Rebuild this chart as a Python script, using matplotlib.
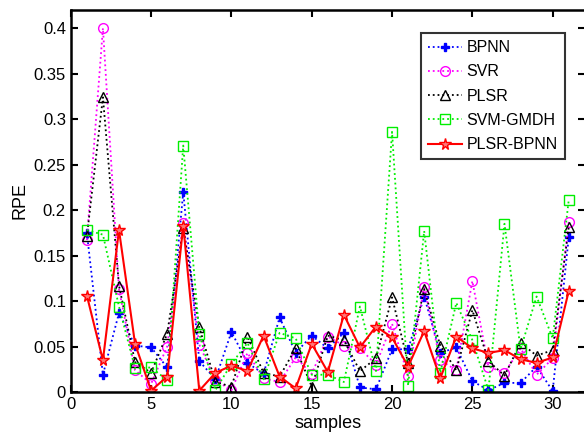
import matplotlib
matplotlib.use("Agg")
import matplotlib.pyplot as plt
from matplotlib.ticker import FuncFormatter

samples = list(range(1, 32))
bpnn = [0.175, 0.019, 0.087, 0.051, 0.049, 0.027, 0.220, 0.034, 0.014, 0.066,
        0.032, 0.020, 0.082, 0.043, 0.062, 0.048, 0.065, 0.005, 0.003, 0.047,
        0.047, 0.105, 0.043, 0.049, 0.012, 0.002, 0.010, 0.010, 0.028, 0.001, 0.170]
svr = [0.167, 0.400, 0.113, 0.024, 0.009, 0.050, 0.186, 0.052, 0.013, 0.002,
       0.043, 0.015, 0.011, 0.038, 0.020, 0.061, 0.051, 0.048, 0.030, 0.075,
       0.018, 0.115, 0.035, 0.024, 0.122, 0.028, 0.021, 0.048, 0.019, 0.037, 0.187]
plsr = [0.171, 0.324, 0.117, 0.033, 0.021, 0.064, 0.180, 0.071, 0.011, 0.006,
        0.061, 0.021, 0.017, 0.048, 0.006, 0.062, 0.057, 0.023, 0.037, 0.104,
        0.032, 0.113, 0.051, 0.024, 0.090, 0.034, 0.018, 0.054, 0.040, 0.046, 0.181]
svm_gmdh = [0.178, 0.173, 0.094, 0.026, 0.027, 0.013, 0.271, 0.064, 0.002, 0.031,
            0.054, 0.014, 0.065, 0.059, 0.019, 0.019, 0.011, 0.094, 0.023, 0.286,
            0.007, 0.177, 0.021, 0.098, 0.057, 0.002, 0.185, 0.047, 0.105, 0.059, 0.211]
plsr_bpnn = [0.106, 0.035, 0.178, 0.053, 0.0015, 0.017, 0.183, 0.0015, 0.021, 0.029,
             0.023, 0.062, 0.017, 0.004, 0.053, 0.022, 0.085, 0.049, 0.072, 0.060,
             0.028, 0.067, 0.015, 0.061, 0.048, 0.043, 0.046, 0.036, 0.032, 0.038, 0.111]

yticks = [0, 0.05, 0.1, 0.15, 0.2, 0.25, 0.3, 0.35, 0.4]
xticks = [0, 5, 10, 15, 20, 25, 30]

plt.rcParams['font.family'] = ['Liberation Sans', 'DejaVu Sans']

fig = plt.figure(figsize=(5.84, 4.42), dpi=100)
ax = fig.add_axes([70.8/584, 50/442, 514/584, 382/442])

ax.plot(samples, bpnn, linestyle=':', color='#0000ff', marker='P', markersize=6,
        markerfacecolor='#0000ff', markeredgecolor='#0000ff', lw=1.3, label='BPNN')
ax.plot(samples, svr, linestyle=':', color='#ff00ff', marker='o', markersize=7,
        markerfacecolor='none', markeredgecolor='#ff00ff', lw=1.3, label='SVR')
ax.plot(samples, plsr, linestyle=':', color='black', marker='^', markersize=7.5,
        markerfacecolor='none', markeredgecolor='black', lw=1.3, label='PLSR')
ax.plot(samples, svm_gmdh, linestyle=':', color='#00ee00', marker='s', markersize=7,
        markerfacecolor='none', markeredgecolor='#00ee00', lw=1.3, label='SVM-GMDH')
ax.plot(samples, plsr_bpnn, linestyle='-', color='#ff0000', marker='*', markersize=8.5,
        markerfacecolor='#ff7777', markeredgecolor='#ff0000', lw=1.5, label='PLSR-BPNN')

ax.set_xlim(0, 32)
ax.set_ylim(0, 0.42)
ax.set_xticks(xticks)
ax.set_yticks(yticks)
ax.yaxis.set_major_formatter(FuncFormatter(lambda v, p: ('%g' % v)))
ax.tick_params(direction='in', top=True, right=True, labelsize=12, length=5, width=1.5)
for s in ax.spines.values():
    s.set_linewidth(1.8)

ax.set_xlabel('samples', fontsize=13, labelpad=2)
ax.set_ylabel('RPE', fontsize=13, labelpad=4)

leg = fig.legend(handles=ax.get_lines(), loc='upper left', bbox_to_anchor=(421/584, 1 - 33/442),
                 fontsize=11.5, frameon=True, fancybox=False, edgecolor='black', borderpad=0.45,
                 labelspacing=0.58, handlelength=2.1, handletextpad=0.3, borderaxespad=0)
leg.get_frame().set_linewidth(1.5)

fig.savefig('out.png', dpi=100)
